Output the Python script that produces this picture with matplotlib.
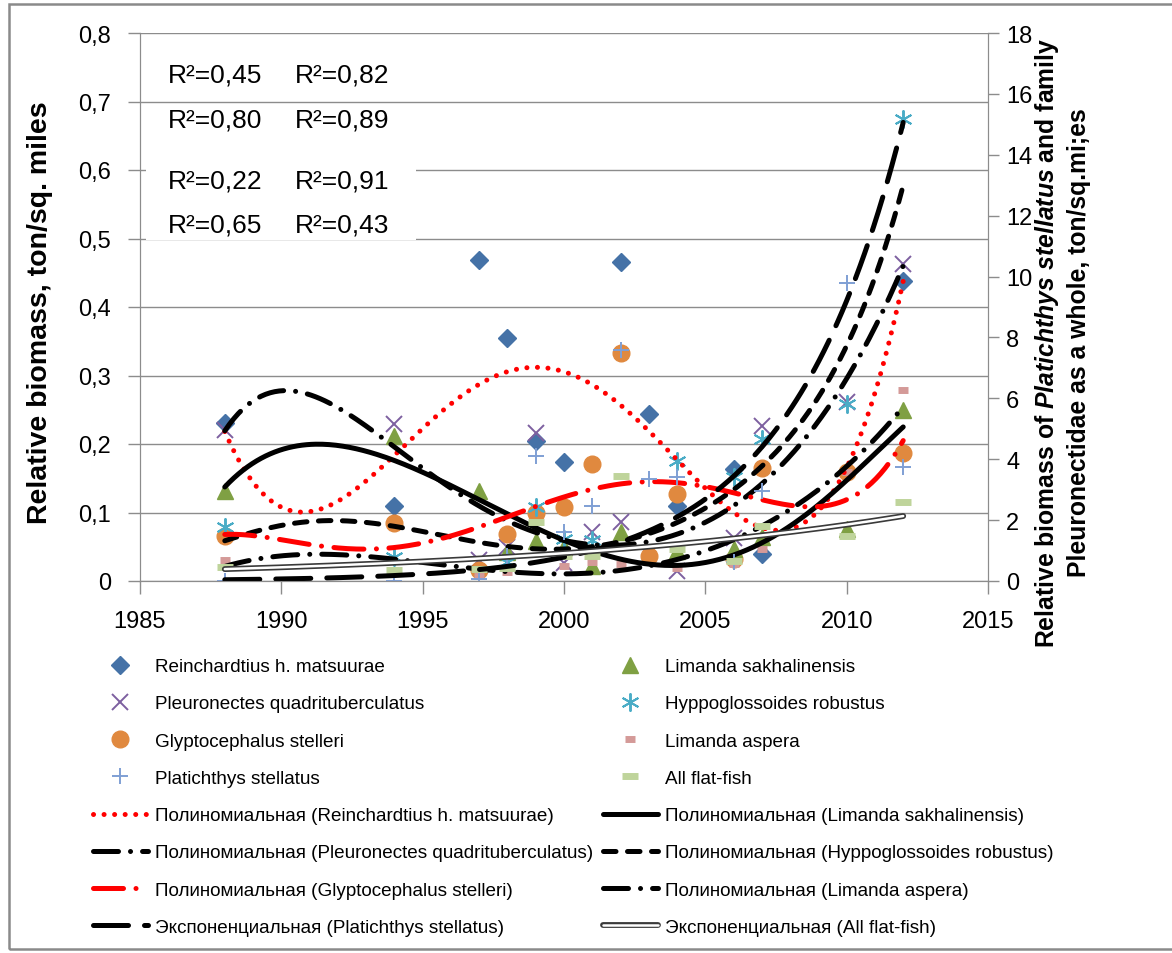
import numpy as np
import matplotlib.pyplot as plt
from matplotlib.patches import Rectangle
from matplotlib.legend_handler import HandlerTuple
from matplotlib.ticker import FuncFormatter

plt.rcParams['font.family'] = ['Liberation Sans', 'DejaVu Sans']
plt.rcParams['mathtext.fontset'] = 'custom'
plt.rcParams['mathtext.it'] = 'Liberation Sans:italic:bold'
plt.rcParams['mathtext.rm'] = 'Liberation Sans:bold'

# --- survey data, left axis (ton/sq. mile) ---
reinch_years = [1988, 1994, 1997, 1998, 1999, 2000, 2002, 2003, 2004, 2006, 2007, 2012]
reinch = [0.23, 0.11, 0.469, 0.355, 0.205, 0.174, 0.466, 0.244, 0.11, 0.164, 0.04, 0.438]

pleuro_years = [1988, 1994, 1997, 1998, 1999, 2000, 2001, 2002, 2004, 2006, 2007, 2010, 2012]
pleuro = [0.22, 0.229, 0.03, 0.05, 0.216, 0.026, 0.071, 0.086, 0.015, 0.063, 0.226, 0.261, 0.463]

glypto_years = [1988, 1994, 1997, 1998, 1999, 2000, 2001, 2002, 2003, 2004, 2006, 2007, 2010, 2012]
glypto = [0.065, 0.085, 0.016, 0.069, 0.1, 0.108, 0.171, 0.333, 0.036, 0.127, 0.032, 0.165, 0.159, 0.187]

limsakh_years = [1988, 1994, 1997, 1998, 1999, 2000, 2001, 2002, 2004, 2006, 2007, 2010, 2012]
limsakh = [0.131, 0.212, 0.131, 0.042, 0.058, 0.05, 0.022, 0.071, 0.044, 0.047, 0.064, 0.076, 0.25]

hippo_years = [1988, 1994, 1998, 1999, 2000, 2001, 2004, 2006, 2007, 2010, 2012]
hippo = [0.079, 0.035, 0.028, 0.108, 0.061, 0.06, 0.175, 0.152, 0.207, 0.258, 0.674]

limasp_years = [1988, 1997, 1998, 2000, 2001, 2002, 2004, 2006, 2007, 2010, 2012]
limasp = [0.03, 0.007, 0.013, 0.022, 0.028, 0.025, 0.019, 0.025, 0.047, 0.159, 0.279]

# --- survey data, right axis ---
platich_years = [1988, 1994, 1997, 1998, 1999, 2000, 2001, 2002, 2003, 2004, 2006, 2007, 2010, 2012]
platich = [0.0, 0.0, 0.05, 0.82, 4.1, 1.6, 2.46, 7.6, 3.35, 3.4, 0.62, 2.96, 9.8, 3.74]

allff_years = [1988, 1994, 1997, 1998, 1999, 2000, 2001, 2002, 2004, 2006, 2007, 2010, 2012]
allff = [0.46, 0.36, 0.4, 0.42, 1.94, 0.82, 0.82, 3.45, 1.05, 0.66, 1.8, 1.48, 2.6]

# --- trend lines ---
trend_years = list(range(1988, 2013))
tr_reinch = [0.215, 0.15, 0.11, 0.098, 0.11, 0.145, 0.188, 0.225, 0.26, 0.288, 0.305, 0.31, 0.305,
             0.285, 0.252, 0.223, 0.18, 0.14, 0.098, 0.074, 0.074, 0.1, 0.178, 0.265, 0.44]
tr_limsakh = [0.139, 0.17, 0.19, 0.199, 0.199, 0.193, 0.177, 0.158, 0.137, 0.117, 0.098, 0.077, 0.059,
              0.044, 0.033, 0.026, 0.025, 0.027, 0.037, 0.054, 0.078, 0.11, 0.15, 0.188, 0.223]
tr_pleuro = [0.22, 0.262, 0.277, 0.272, 0.255, 0.226, 0.195, 0.165, 0.135, 0.11, 0.088, 0.07, 0.058,
             0.052, 0.053, 0.06, 0.072, 0.085, 0.105, 0.14, 0.185, 0.235, 0.295, 0.37, 0.46]
tr_hippo = [0.058, 0.072, 0.082, 0.087, 0.088, 0.085, 0.08, 0.071, 0.062, 0.056, 0.052, 0.05, 0.049,
            0.051, 0.056, 0.066, 0.082, 0.105, 0.135, 0.17, 0.215, 0.27, 0.34, 0.44, 0.58]
tr_glypto = [0.068, 0.066, 0.061, 0.053, 0.048, 0.046, 0.049, 0.056, 0.066, 0.08, 0.094, 0.108, 0.121,
             0.133, 0.142, 0.146, 0.145, 0.139, 0.128, 0.117, 0.11, 0.109, 0.118, 0.15, 0.204]
tr_limasp = [0.022, 0.03, 0.036, 0.039, 0.039, 0.037, 0.033, 0.027, 0.021, 0.016, 0.013, 0.011, 0.011,
             0.013, 0.016, 0.022, 0.031, 0.044, 0.06, 0.08, 0.104, 0.133, 0.168, 0.208, 0.254]
exp_years = [1988, 1992, 1996, 2000, 2004, 2008, 2010, 2012]
tr_platich = [0.04, 0.11, 0.3, 0.8, 2.1, 5.6, 9.2, 14.9]
exp_years_all = [1988, 1994, 2000, 2006, 2012]
tr_allff = [0.39, 0.6, 0.91, 1.4, 2.13]

r2_left = ['0,45', '0,80', '0,22', '0,65']
r2_right = ['0,82', '0,89', '0,91', '0,43']


def poly_curve(years, vals, deg=6):
    x = (np.array(years) - 2000) / 12.0
    c = np.polyfit(x, vals, deg)
    t = np.linspace(years[0], years[-1], 300)
    return t, np.polyval(c, (t - 2000) / 12.0)


def exp_curve(years, vals):
    c = np.polyfit(years, np.log(vals), 1)
    t = np.linspace(years[0], years[-1], 300)
    return t, np.exp(np.polyval(c, t))


W, H = 1172, 954
fig = plt.figure(figsize=(W / 100, H / 100), dpi=100)
ax = fig.add_axes([140 / W, 1 - 582 / H, (988 - 140) / W, (582 - 34) / H])
ax2 = ax.twinx()

grey = '#8c8c8c'
lw = 3.6

# scatter series
sc = {}
sc['reinch'] = ax.plot(reinch_years, reinch, ls='none', marker='D', ms=9.5, color='#4572A7')[0]
sc['pleuro'] = ax.plot(pleuro_years, pleuro, ls='none', marker='x', ms=12, mew=1.4, color='#7D60A0')[0]
sc['glypto'] = ax.plot(glypto_years, glypto, ls='none', marker='o', ms=12, color='#E0893F')[0]
sc['limsakh'] = ax.plot(limsakh_years, limsakh, ls='none', marker='^', ms=12, color='#7FA043')[0]
sc['hippo'] = ax.plot(hippo_years, hippo, ls='none', marker=(6, 2, 0), ms=13, mew=1.4, color='#4AACC6')[0]
sc['limasp'] = ax.plot(limasp_years, limasp, ls='none', marker='_', ms=7, mew=5, color='#D49A98')[0]
sc['platich'] = ax2.plot(platich_years, platich, ls='none', marker='+', ms=12, mew=1.4, color='#7F9FD4')[0]
sc['allff'] = ax2.plot(allff_years, allff, ls='none', marker='_', ms=12, mew=5, color='#BFD49B')[0]

# trend lines
dashdot = (0, (5, 2.4, 0.01, 2.4))
kw = dict(lw=lw, dash_capstyle='round', solid_capstyle='round')
tl = {}
tl['reinch'] = ax.plot(*poly_curve(trend_years, tr_reinch), color='red', ls=(0, (0.01, 2.1)), **kw)[0]
tl['limsakh'] = ax.plot(*poly_curve(trend_years, tr_limsakh), color='black', ls='-', **kw)[0]
tl['pleuro'] = ax.plot(*poly_curve(trend_years, tr_pleuro), color='black', ls=dashdot, **kw)[0]
tl['hippo'] = ax.plot(*poly_curve(trend_years, tr_hippo), color='black', ls=(0, (2.5, 2.3)), **kw)[0]
tl['glypto'] = ax.plot(*poly_curve(trend_years, tr_glypto), color='red', ls=(0, (6, 2.5, 0.01, 2.5)), **kw)[0]
tl['limasp'] = ax.plot(*poly_curve(trend_years, tr_limasp), color='black', ls=dashdot, **kw)[0]
tl['platich'] = ax2.plot(*exp_curve(exp_years, tr_platich), color='black', ls=(0, (7, 3.2)), **kw)[0]
t_all, v_all = exp_curve(exp_years_all, tr_allff)
ff_outer = ax2.plot(t_all, v_all, color='#3a3a3a', lw=4.2, solid_capstyle='round')[0]
ff_inner = ax2.plot(t_all, v_all, color='white', lw=1.8, solid_capstyle='round')[0]

# axes styling
ax.set_xlim(1985, 2015)
ax.set_ylim(0, 0.8)
ax2.set_ylim(0, 18)
ax.set_xticks(range(1985, 2016, 5))
ax.set_yticks(np.arange(0, 0.81, 0.1))
ax2.set_yticks(range(0, 19, 2))
ax.yaxis.set_major_formatter(FuncFormatter(lambda v, p: '0' if v == 0 else f'{v:.1f}'.replace('.', ',')))
ax.yaxis.grid(True, color=grey, lw=1)
ax.set_axisbelow(True)
for a in (ax, ax2):
    for s in a.spines.values():
        s.set_color(grey)
    a.spines['top'].set_visible(False)
ax.tick_params(axis='y', length=9, width=1, color=grey, labelsize=17, pad=12)
ax.tick_params(axis='x', length=9, width=1, color=grey, labelsize=17, pad=12)
ax2.tick_params(axis='y', length=8, width=1, color=grey, labelsize=17, pad=5)

# axis titles
fig.text(40 / W, 1 - 313 / H, 'Relative biomass, ton/sq. miles', rotation=90,
         ha='center', va='center', fontsize=20.5, fontweight='bold')
fig.text(1047 / W, 1 - 343 / H, r'Relative biomass of $\mathit{Platichthys\ stellatus}$ and family',
         rotation=90, ha='center', va='center', fontsize=17.8, fontweight='bold')
fig.text(1079 / W, 1 - 343 / H, 'Pleuronectidae as a whole, ton/sq.mi;es',
         rotation=90, ha='center', va='center', fontsize=17.8, fontweight='bold')

# R^2 annotations
fig.add_artist(Rectangle((146 / W, 1 - 241 / H), 270 / W, 90 / H, transform=fig.transFigure,
                         facecolor='white', edgecolor='none', zorder=3))
row_y = [76, 121, 181, 226]
for yy, a, b in zip(row_y, r2_left, r2_right):
    fig.text(168 / W, 1 - yy / H, 'R\u00b2=' + a, fontsize=19, va='center', zorder=4)
    fig.text(295 / W, 1 - yy / H, 'R\u00b2=' + b, fontsize=19, va='center', zorder=4)

# outer frame
fig.add_artist(Rectangle((9 / W, 1 - 950 / H), 1.2, 945 / H, transform=fig.transFigure,
                         fill=False, edgecolor='#8a8a8a', lw=1.8, zorder=5))

# legend, row-major in two columns
col1 = [(sc['reinch'], 'Reinchardtius h. matsuurae'),
        (sc['pleuro'], 'Pleuronectes quadrituberculatus'),
        (sc['glypto'], 'Glyptocephalus stelleri'),
        (sc['platich'], 'Platichthys stellatus'),
        (tl['reinch'], 'Полиномиальная (Reinchardtius h. matsuurae)'),
        (tl['pleuro'], 'Полиномиальная (Pleuronectes quadrituberculatus)'),
        (tl['glypto'], 'Полиномиальная (Glyptocephalus stelleri)'),
        (tl['platich'], 'Экспоненциальная (Platichthys stellatus)')]
col2 = [(sc['limsakh'], 'Limanda sakhalinensis'),
        (sc['hippo'], 'Hyppoglossoides robustus'),
        (sc['limasp'], 'Limanda aspera'),
        (sc['allff'], 'All flat-fish'),
        (tl['limsakh'], 'Полиномиальная (Limanda sakhalinensis)'),
        (tl['hippo'], 'Полиномиальная (Hyppoglossoides robustus)'),
        (tl['limasp'], 'Полиномиальная (Limanda aspera)'),
        ((ff_outer, ff_inner), 'Экспоненциальная (All flat-fish)')]

for items, x0 in ((col1, 93), (col2, 603)):
    h = [i[0] for i in items]
    lab = [i[1] for i in items]
    fig.legend(h, lab, loc='upper left', bbox_to_anchor=(x0 / W, 1 - 659 / H),
               frameon=False, fontsize=13.6, handlelength=2.9, handletextpad=0.37,
               labelspacing=1.06, borderpad=0, borderaxespad=0, numpoints=1,
               handler_map={tuple: HandlerTuple(ndivide=1)})

fig.savefig('out.png', dpi=100)
